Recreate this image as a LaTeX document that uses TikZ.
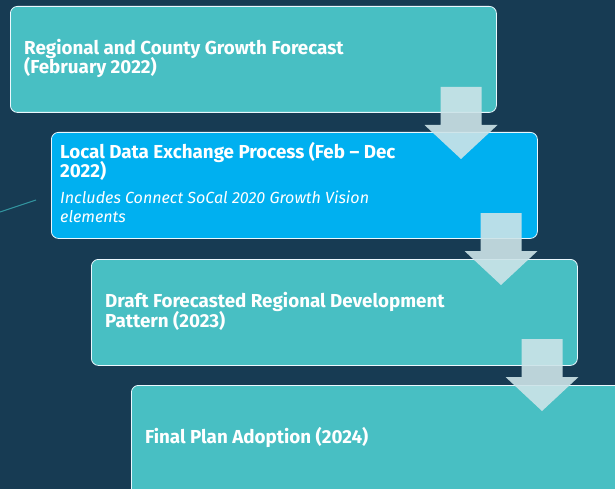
\documentclass[tikz,border=0pt]{standalone}
\usepackage{fontspec}
\setmainfont{Fira Sans}
\definecolor{bgc}{HTML}{173B53}
\definecolor{tealc}{HTML}{48BFC3}
\definecolor{bluec}{HTML}{00B0F0}
\definecolor{arrowc}{HTML}{CDE4E8}
\definecolor{linec}{HTML}{3396A0}
\begin{document}
\begin{tikzpicture}[x=1pt,y=-1pt,
  stepbox/.style={draw=white!92!cyan, line width=0.8pt, rounded corners=7pt,
    inner sep=0pt, anchor=north west, minimum width=486pt, minimum height=106pt},
  ttl/.style={anchor=base west, inner sep=0pt, text=white,
    font=\fontsize{18.8}{21}\selectfont\bfseries},
  sub/.style={anchor=base west, inner sep=0pt, text=white,
    font=\fontsize{16.1}{18}\selectfont\itshape},
  downarrow/.pic={\fill[arrowc, fill opacity=0.9]
    (-20.5,0) -- (20.5,0) -- (20.5,38) -- (36.5,38) -- (0,72) -- (-36.5,38) -- (-20.5,38) -- cycle;}]
\clip (0,0) rectangle (615,489);
\fill[bgc] (0,0) rectangle (615,489);
\coordinate (l1) at (0,212);
\coordinate (l2) at (36,200);
\draw[linec, line width=1pt] (l1) -- (l2);
\node[stepbox, fill=tealc] (b1) at (10,6) {};
\node[stepbox, fill=bluec] (b2) at (51,132) {};
\node[stepbox, fill=tealc] (b3) at (91,259) {};
\node[stepbox, fill=tealc, minimum width=520pt, minimum height=130pt] (b4) at (131,385) {};
\node[ttl] (t1a) at (24,55) {Regional and County Growth Forecast};
\node[ttl] (t1b) at (24,74) {(February 2022)};
\node[ttl] (t2a) at (60,159) {Local Data Exchange Process (Feb – Dec};
\node[ttl] (t2b) at (60,178) {2022)};
\node[sub] (t2c) at (60,204) {Includes Connect SoCal 2020 Growth Vision};
\node[sub] (t2d) at (60,222) {elements};
\node[ttl] (t3a) at (105,307) {Draft Forecasted Regional Development};
\node[ttl] (t3b) at (105,327) {Pattern (2023)};
\node[ttl] (t4) at (145,443) {Final Plan Adoption (2024)};
\pic at (461,87) {downarrow};
\pic at (501,213) {downarrow};
\pic at (542,339) {downarrow};
\end{tikzpicture}
\end{document}
